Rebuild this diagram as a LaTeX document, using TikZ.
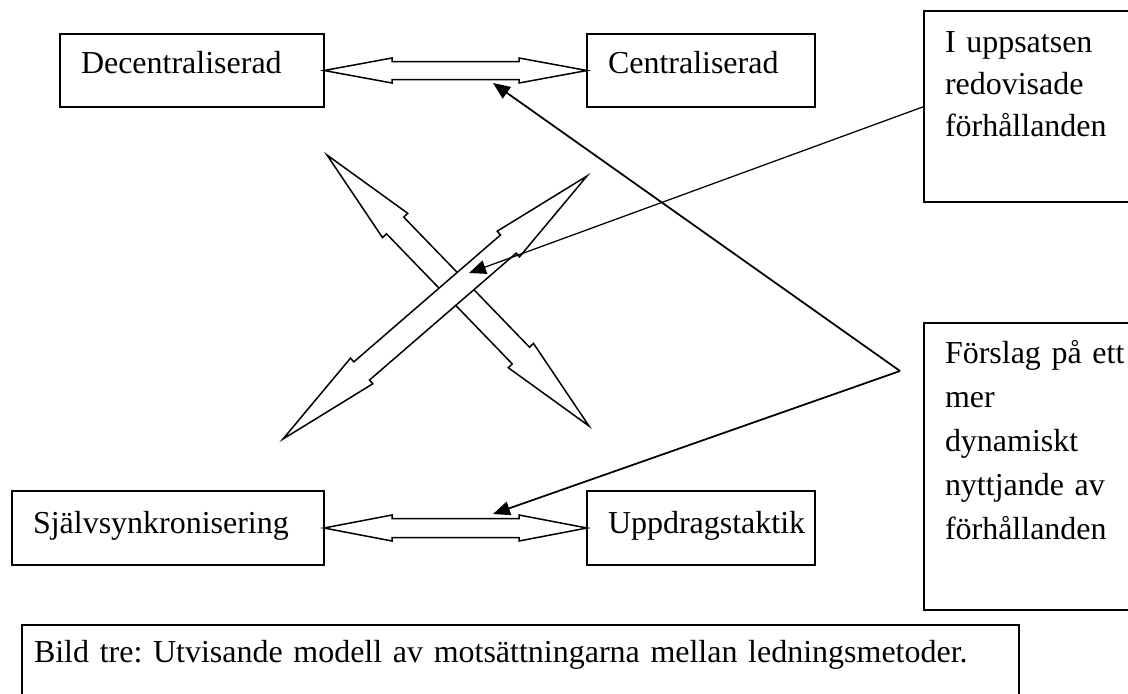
\documentclass[tikz,border=0pt]{standalone}
\usepackage{fontspec}
\setmainfont{Liberation Serif}
\usetikzlibrary{arrows.meta,calc}

\newcommand{\dblarrow}[5]{% from, to, head length, head half width, shaft half width
	\draw[fatarrow] (#1) -- ($(#1)!#3!(#2)!#4!90:(#2)$) -- ($(#1)!#3!(#2)!#5!90:(#2)$)
		-- ($(#2)!#3!(#1)!#5!-90:(#1)$) -- ($(#2)!#3!(#1)!#4!-90:(#1)$) -- (#2)
		-- ($(#2)!#3!(#1)!#4!90:(#1)$) -- ($(#2)!#3!(#1)!#5!90:(#1)$)
		-- ($(#1)!#3!(#2)!#5!-90:(#2)$) -- ($(#1)!#3!(#2)!#4!-90:(#2)$) -- cycle;}

\begin{document}
\begin{tikzpicture}[x=0.2mm, y=-0.2mm,
	every node/.style={font=\fontsize{18.2pt}{8.4mm}\selectfont\frenchspacing},
	box/.style={draw, line width=0.4mm, anchor=north west, align=left, inner xsep=4.2mm, inner ysep=0pt, outer sep=0pt},
	fatarrow/.style={line width=0.3mm, fill=white, line join=miter},
	pointer/.style={line width=0.35mm, -{Triangle[length=3.4mm, width=2.8mm]}}]
	\useasboundingbox (0,0) rectangle (1128,693);
	\clip (0,0) rectangle (1128,693);
	\node[box, text width=44.4mm, text height=7.8mm, text depth=6.8mm] (dec) at (60,34) {Decentraliserad};
	\node[box, text width=37.2mm, text height=7.8mm, text depth=6.8mm] (cen) at (587,34) {Centraliserad};
	\node[box, text width=54mm, text height=8.4mm, text depth=6.4mm] (sjalv) at (12,491) {Självsynkronisering};
	\node[box, text width=37.2mm, text height=8.4mm, text depth=6.4mm] (uppd) at (587,491) {Uppdragstaktik};
	\node[box, text width=36mm, text height=8.2mm, text depth=30mm] (ups) at (924,11) {I uppsatsen\\redovisade\\förhållanden};
	\node[box, text width=36mm, text height=8mm, text depth=49.4mm, font=\fontsize{18.2pt}{8.8mm}\selectfont] (forslag) at (924,323) {Förslag på ett\\mer\\dynamiskt\\nyttjande av\\förhållanden};
	\node[box, inner xsep=2.4mm, text width=194.6mm, text height=7.4mm, text depth=15.6mm] (bild) at (22,625) {Bild tre: Utvisande modell av motsättningarna mellan ledningsmetoder.};
	\dblarrow{dec.east}{cen.west}{13.6mm}{2.5mm}{1.8mm}
	\dblarrow{sjalv.east}{uppd.west}{13.6mm}{2.6mm}{1.9mm}
	\coordinate (nw) at (327,155);
	\coordinate (se) at (589,426);
	\coordinate (sw) at (283,439);
	\coordinate (ne) at (587,176);
	\dblarrow{nw}{se}{19.6mm}{3.5mm}{2.4mm}
	\dblarrow{sw}{ne}{20.8mm}{3.4mm}{2.4mm}
	\coordinate (hub) at (900,371);
	\coordinate (hitA) at (493,83);
	\coordinate (hitB) at (493,514);
	\coordinate (hitC) at (469,273);
	\draw[pointer] (hub) -- (hitA);
	\draw[pointer] (hub) -- (hitB);
	\draw[pointer, line width=0.25mm] (ups.west) -- (hitC);
\end{tikzpicture}
\end{document}
